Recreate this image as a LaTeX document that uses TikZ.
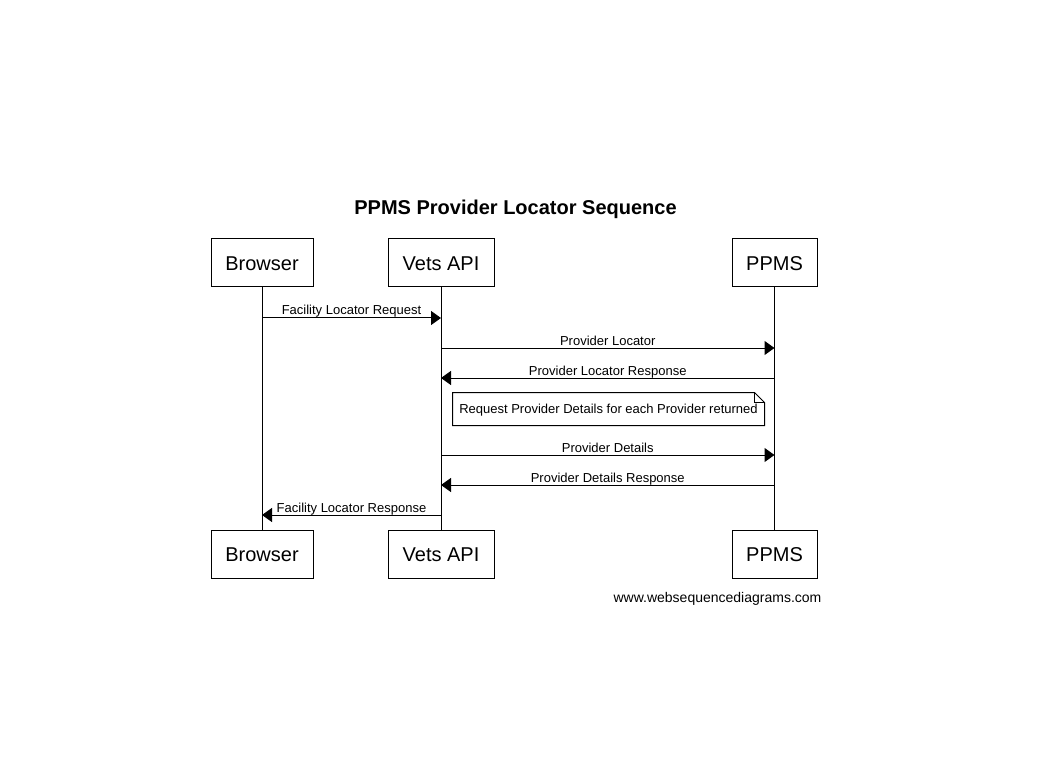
\documentclass[tikz,border=0pt]{standalone}
\usepackage{fontspec}
\setmainfont{Liberation Sans}
\usetikzlibrary{arrows.meta}
\begin{document}
\begin{tikzpicture}[x=1pt,y=1pt,line width=1pt,
  actor/.style={draw,rectangle,inner sep=0pt,minimum height=48pt,text height=14.3pt,text depth=0pt,font=\fontsize{20}{24}\selectfont},
  msg/.style={-{Triangle[length=10pt,width=14pt]}},
  lbl/.style={anchor=base,inner sep=0pt,font=\fontsize{13}{15}\selectfont},
  life/.style={line width=1pt}]
\useasboundingbox (0,0) rectangle (1037,-762);
\fill[white] (0,0) rectangle (1037,-762);
% title
\node[anchor=base,inner sep=0pt,font=\bfseries\fontsize{20}{24}\selectfont] (title) at (515.5,-215) {PPMS Provider Locator Sequence};
% participants top
\node[actor,minimum width=102pt] (brw1) at (262,-263) {Browser};
\node[actor,minimum width=106pt] (api1) at (441,-263) {Vets API};
\node[actor,minimum width=85pt] (ppm1) at (774.5,-263) {PPMS};
% participants bottom
\node[actor,minimum width=102pt] (brw2) at (262,-554) {Browser};
\node[actor,minimum width=106pt] (api2) at (441,-554) {Vets API};
\node[actor,minimum width=85pt] (ppm2) at (774.5,-554) {PPMS};
% lifelines
\draw[life] (brw1.south) -- (brw2.north);
\draw[life] (api1.south) -- (api2.north);
\draw[life] (ppm1.south) -- (ppm2.north);
% message rows
\coordinate (y1) at (0,-318);
\coordinate (y2) at (0,-348);
\coordinate (y3) at (0,-378);
\coordinate (y4) at (0,-455);
\coordinate (y5) at (0,-485);
\coordinate (y6) at (0,-515);
\draw[msg] (brw1 |- y1) -- node[lbl,above=3pt,anchor=base] (l1) {Facility Locator Request} (api1 |- y1);
\draw[msg] (api1 |- y2) -- node[lbl,above=3pt,anchor=base] (l2) {Provider Locator} (ppm1 |- y2);
\draw[msg] (ppm1 |- y3) -- node[lbl,above=3pt,anchor=base] (l3) {Provider Locator Response} (api1 |- y3);
\draw[msg] (api1 |- y4) -- node[lbl,above=3pt,anchor=base] (l4) {Provider Details} (ppm1 |- y4);
\draw[msg] (ppm1 |- y5) -- node[lbl,above=3pt,anchor=base] (l5) {Provider Details Response} (api1 |- y5);
\draw[msg] (api1 |- y6) -- node[lbl,above=3pt,anchor=base] (l6) {Facility Locator Response} (brw1 |- y6);
% note
\node[inner sep=0pt,minimum width=311pt,minimum height=32pt,text height=9.4pt,text depth=0pt,font=\fontsize{13}{15}\selectfont] (note) at (608.5,-409) {Request Provider Details for each Provider returned};
\draw ([xshift=-10pt]note.north east) -- (note.north west) -- (note.south west) -- (note.south east) -- ([yshift=-10pt]note.north east) -- cycle;
\draw ([xshift=-10pt]note.north east) -- ([xshift=-10pt,yshift=-10pt]note.north east) -- ([yshift=-10pt]note.north east);
% watermark
\node[anchor=base,inner sep=0pt,font=\fontsize{14}{17}\selectfont] (wm) at (717.5,-602) {www.websequencediagrams.com};
\end{tikzpicture}
\end{document}
